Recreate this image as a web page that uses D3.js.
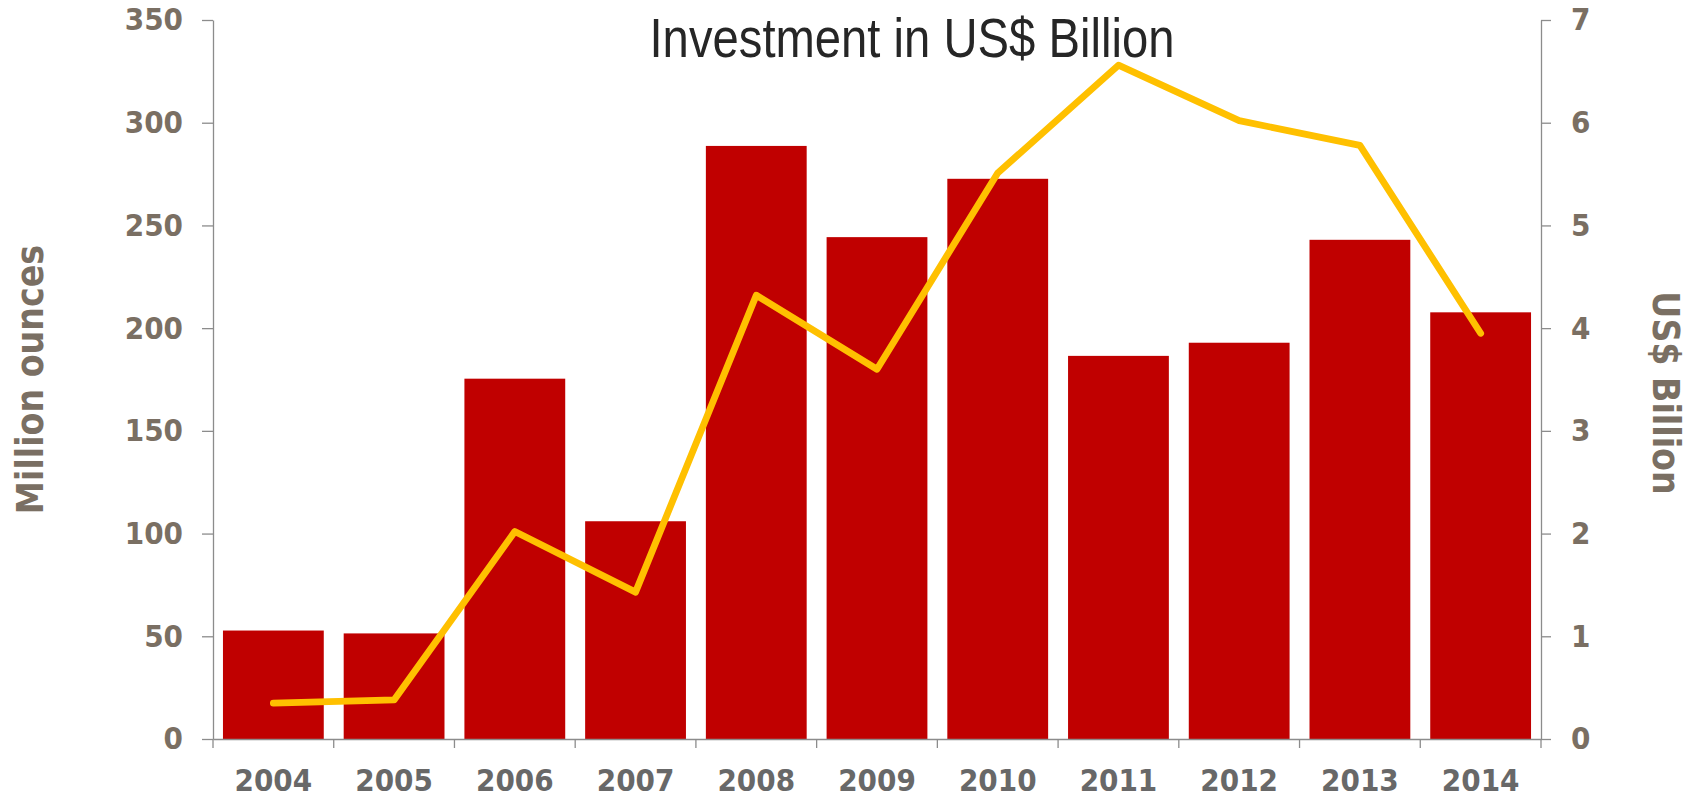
<!DOCTYPE html>
<html>
<head>
<meta charset="utf-8">
<script src="https://cdn.jsdelivr.net/npm/d3@7/dist/d3.min.js"></script>
<style>
  html, body { margin: 0; padding: 0; background: #ffffff; }
  svg { display: block; }
  .lbl { font-family: "DejaVu Sans Condensed", "DejaVu Sans", sans-serif; font-stretch: condensed; font-weight: bold; }
</style>
</head>
<body>
<svg id="chart" width="1698" height="797"></svg>
<script>
// Silver investment: physical volume (bars) and value (line)
const years = ["2004","2005","2006","2007","2008","2009","2010","2011","2012","2013","2014"];
const ounces = [52.8, 51.4, 175.4, 106.0, 288.7, 244.3, 272.7, 186.5, 192.9, 243.0, 207.7];
const billions = [0.35, 0.38, 2.02, 1.43, 4.32, 3.60, 5.51, 6.56, 6.02, 5.78, 3.95];
const leftTicks = [0, 50, 100, 150, 200, 250, 300, 350];
const rightTicks = [0, 1, 2, 3, 4, 5, 6, 7];

const svg = d3.select("#chart");
const plotLeft = 213, plotRight = 1541, plotTop = 20, plotBottom = 739;

const x = d3.scaleBand().domain(years).range([plotLeft, plotRight]).paddingInner(0.165).paddingOuter(0.0825);
const yL = d3.scaleLinear().domain([0, 350]).range([plotBottom, plotTop]);
const yR = d3.scaleLinear().domain([0, 7]).range([plotBottom, plotTop]);

// bars
svg.append("g").selectAll("rect").data(years).join("rect")
  .attr("x", d => x(d))
  .attr("width", x.bandwidth())
  .attr("y", (d, i) => yL(ounces[i]))
  .attr("height", (d, i) => plotBottom - yL(ounces[i]))
  .attr("fill", "#C00000");

// axes
const axisColor = "#8c8c8c";
const tickColor = "#7a6f63";

const gL = svg.append("g").attr("transform", `translate(${plotLeft},0)`)
  .call(d3.axisLeft(yL).tickValues(leftTicks).tickFormat(d3.format("d"))
    .tickSize(11).tickSizeOuter(0).tickPadding(19));
const gR = svg.append("g").attr("transform", `translate(${plotRight},0)`)
  .call(d3.axisRight(yR).tickValues(rightTicks).tickFormat(d3.format("d"))
    .tickSize(10).tickSizeOuter(0).tickPadding(20));
[gL, gR].forEach(g => {
  g.selectAll("path, line").attr("stroke", axisColor).attr("stroke-width", 1.3);
  g.selectAll("text").attr("class", "lbl").attr("font-size", 31).attr("fill", tickColor);
});

// category axis with boundary ticks
const gX = svg.append("g").attr("transform", `translate(0,${plotBottom})`)
  .call(d3.axisBottom(x).tickSize(0).tickSizeOuter(0));
gX.select("path").attr("stroke", axisColor).attr("stroke-width", 1.3);
gX.selectAll("text").attr("class", "lbl").attr("font-size", 31).attr("fill", "#686868")
  .attr("dy", null).attr("y", 52);
const gap = (x.step() - x.bandwidth()) / 2;
const bounds = years.map(d => x(d) - gap).concat([x(years[years.length - 1]) + x.bandwidth() + gap]);
gX.selectAll("line.bound").data(bounds).join("line").attr("class", "bound")
  .attr("x1", d => d).attr("x2", d => d).attr("y1", 0).attr("y2", 9)
  .attr("stroke", axisColor).attr("stroke-width", 1.3);

// value line
const line = d3.line()
  .x((d, i) => x(years[i]) + x.bandwidth() / 2)
  .y(d => yR(d));
svg.append("path").datum(billions)
  .attr("d", line)
  .attr("fill", "none")
  .attr("stroke", "#FFC000")
  .attr("stroke-width", 6.8)
  .attr("stroke-linecap", "round")
  .attr("stroke-linejoin", "round");

// axis titles
svg.append("text").attr("class", "lbl")
  .attr("transform", `translate(43,${(plotTop + plotBottom) / 2}) rotate(-90)`)
  .attr("text-anchor", "middle").attr("font-size", 37).attr("fill", tickColor)
  .text("Million ounces");
svg.append("text").attr("class", "lbl")
  .attr("transform", `translate(1653,393) rotate(90)`)
  .attr("text-anchor", "middle").attr("font-size", 37).attr("fill", tickColor)
  .text("US$ Billion");

// chart title (narrow face)
svg.append("text")
  .attr("x", 912).attr("y", 57)
  .attr("text-anchor", "middle")
  .attr("font-family", "'Liberation Sans Narrow', 'Liberation Sans', sans-serif")
  .attr("font-size", 55).attr("fill", "#262626")
  .attr("textLength", 525).attr("lengthAdjust", "spacingAndGlyphs")
  .text("Investment in US$ Billion");
</script>
</body>
</html>
